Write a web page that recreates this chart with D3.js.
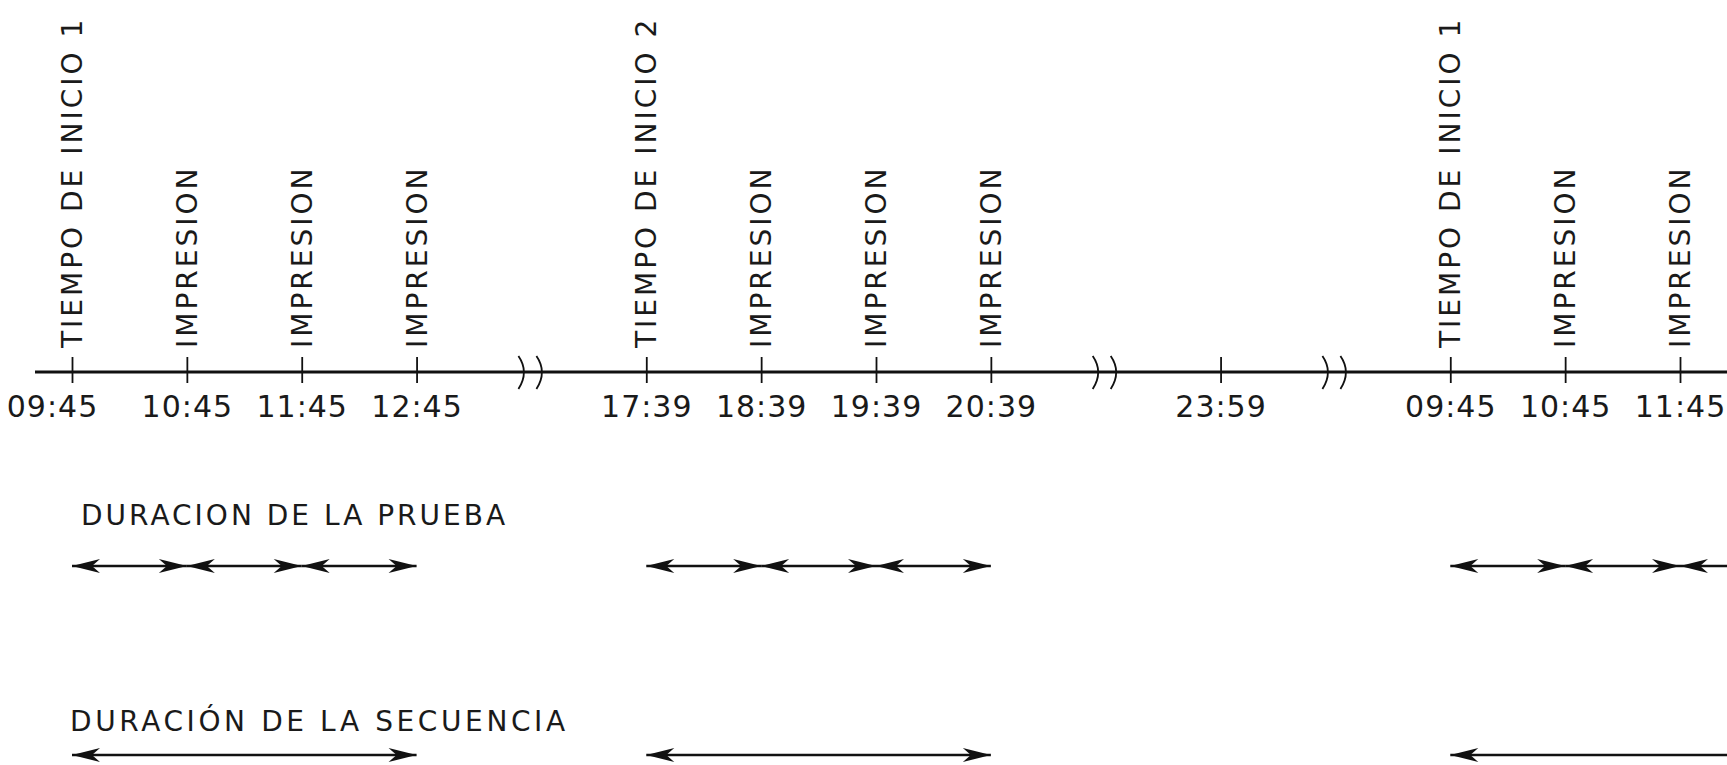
<!DOCTYPE html>
<html>
<head>
<meta charset="utf-8">
<script src="https://cdn.jsdelivr.net/npm/d3@7"></script>
<style>
  html, body { margin: 0; padding: 0; background: #fff; }
  svg { display: block; }
  text { font-family: "DejaVu Sans", sans-serif; fill: #1a1a1a; }
</style>
</head>
<body>
<svg id="chart" width="1727" height="765"></svg>
<script>
// ---- data ----
const tickTimes   = ["09:45","10:45","11:45","12:45","17:39","18:39","19:39","20:39","23:59","09:45","10:45","11:45"];
const tickSlots   = [0, 1, 2, 3, 5, 6, 7, 8, 10, 12, 13, 14];   // positions on the broken time axis
const eventLabels = ["TIEMPO DE INICIO 1","IMPRESION","IMPRESION","IMPRESION",
                     "TIEMPO DE INICIO 2","IMPRESION","IMPRESION","IMPRESION",
                     "",
                     "TIEMPO DE INICIO 1","IMPRESION","IMPRESION"];
const breakSlots  = [4, 9, 11];
const pruebaIntervals    = [[0,1],[1,2],[2,3],[5,6],[6,7],[7,8],[12,13],[13,14],[14,15]];
const secuenciaIntervals = [[0,3],[5,8],[12,15]];
const durationLabels = ["DURACION DE LA PRUEBA", "DURACIÓN DE LA SECUENCIA"];

// ---- layout ----
const W = 1727, H = 765;
const axisY = 372;
const svg = d3.select("#chart");
const x = d3.scaleLinear().domain([0, 14]).range([72, 1680]);

// main axis line
svg.append("line")
  .attr("x1", 35).attr("x2", W)
  .attr("y1", axisY).attr("y2", axisY)
  .attr("stroke", "#111").attr("stroke-width", 3);

// ticks + time labels via d3 axis
const axisG = svg.append("g").attr("transform", `translate(0,${axisY})`)
  .call(d3.axisBottom(x).tickValues(tickSlots).tickSize(11)
        .tickFormat((d, i) => tickTimes[i]));
axisG.select(".domain").remove();
axisG.selectAll(".tick line")
  .attr("y1", -15).attr("y2", 11)
  .attr("stroke", "#111").attr("stroke-width", 1.8);
axisG.selectAll(".tick text")
  .attr("y", 45).attr("dy", 0)
  .attr("dx", (d, i) => i === 0 ? -20 : 0)
  .style("font-family", "'DejaVu Sans', sans-serif")
  .style("font-size", "30px")
  .style("letter-spacing", "1px")
  .attr("fill", "#1a1a1a");

// vertical event labels
svg.append("g").selectAll("text")
  .data(tickSlots.map((s, i) => ({ s, label: eventLabels[i] })).filter(d => d.label))
  .join("text")
  .attr("transform", d => `translate(${x(d.s) + 10},348) rotate(-90)`)
  .attr("text-anchor", "start")
  .style("font-size", "28px")
  .style("letter-spacing", "3px")
  .text(d => d.label);

// axis breaks
const brk = svg.append("g");
breakSlots.forEach(b => {
  const cx = x(b);
  [-9, 9].forEach(off => {
    const px = cx + off;
    brk.append("path")
      .attr("d", `M${px - 4},${axisY - 16} Q${px + 7},${axisY} ${px - 4},${axisY + 17}`)
      .attr("fill", "none").attr("stroke", "#111").attr("stroke-width", 1.8);
  });
});

// arrows
function arrowHead(g, tipX, y, dir) {
  // dir = +1 points right, -1 points left
  const L = 28, w = 7, n = 20;
  g.append("path")
    .attr("d", `M${tipX},${y} L${tipX - dir * L},${y - w} L${tipX - dir * n},${y} L${tipX - dir * L},${y + w} Z`)
    .attr("fill", "#111");
}
function drawArrows(intervals, y) {
  const g = svg.append("g");
  intervals.forEach(([a, b]) => {
    const x1 = x(a), x2 = x(b);
    g.append("line").attr("x1", x1).attr("x2", x2).attr("y1", y).attr("y2", y)
      .attr("stroke", "#111").attr("stroke-width", 2.5);
    arrowHead(g, x1, y, -1);
    arrowHead(g, x2, y, 1);
  });
}
drawArrows(pruebaIntervals, 566);
drawArrows(secuenciaIntervals, 755);

// duration labels
svg.append("text").attr("x", 81).attr("y", 525)
  .style("font-size", "28px").style("letter-spacing", "3px")
  .text(durationLabels[0]);
svg.append("text").attr("x", 70).attr("y", 731)
  .style("font-size", "28px").style("letter-spacing", "3.6px")
  .text(durationLabels[1]);
</script>
</body>
</html>
